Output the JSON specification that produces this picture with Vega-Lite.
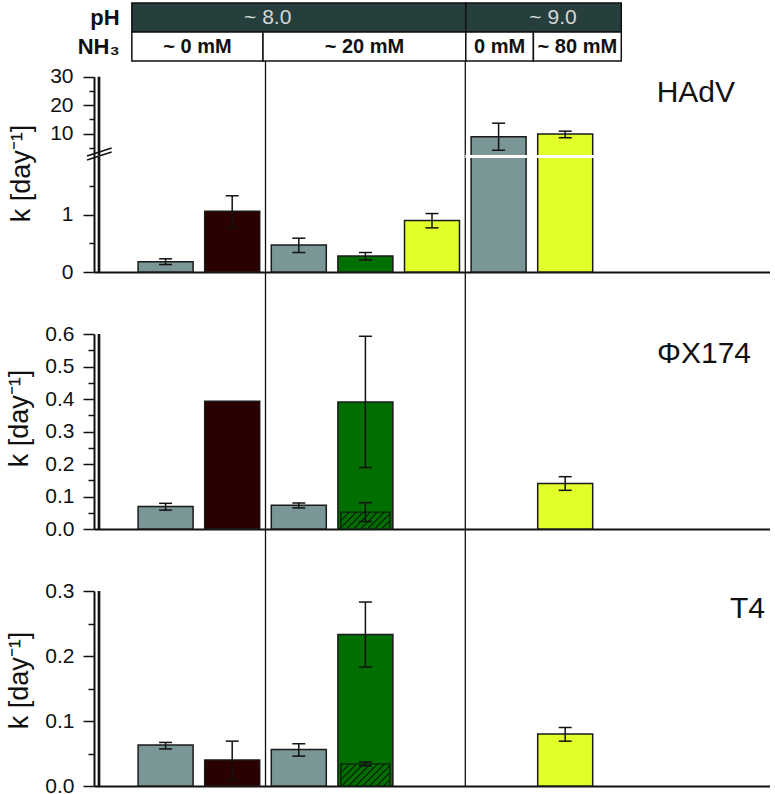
{
  "$schema": "https://vega.github.io/schema/vega-lite/v6.json",
  "padding": {"left": 5, "top": 2, "right": 0, "bottom": 0},
  "spacing": 0,
  "bounds": "flush",
  "resolve": {"scale": {"x": "independent", "y": "independent", "fill": "independent"}},
  "config": {
    "view": {"stroke": null},
    "font": "Liberation Sans",
    "axisY": {"domain": true, "domainColor": "#111", "domainWidth": 2, "grid": false, "labelOverlap": false, "tickCount": 100, "tickColor": "#111", "tickWidth": 1.5, "labelFontSize": 21, "labelColor": "#111", "titleFontSize": 27, "titleFontWeight": "normal", "titleColor": "#111"},
    "axisX": {"domain": true, "domainColor": "#111", "domainWidth": 2, "ticks": false, "labels": false, "grid": false, "title": null}
  },
  "datasets": {
    "header": [
      {"row": "pH", "label": "~ 8.0", "x0": 0.56, "x1": 5.5, "xl": 2.57},
      {"row": "pH", "label": "~ 9.0", "x0": 5.5, "x1": 7.8, "xl": 6.79},
      {"row": "NH3", "label": "~ 0 mM", "x0": 0.56, "x1": 2.5, "xl": 1.53},
      {"row": "NH3", "label": "~ 20 mM", "x0": 2.5, "x1": 5.5, "xl": 4.0},
      {"row": "NH3", "label": "0 mM", "x0": 5.5, "x1": 6.5, "xl": 6.0},
      {"row": "NH3", "label": "~ 80 mM", "x0": 6.5, "x1": 7.8, "xl": 7.15}
    ],
    "rowlabels": [
      {"row": "pH", "text": "pH"},
      {"row": "NH3", "text": "NH₃"}
    ],
    "separators": [{"s": 2.5}, {"s": 5.5}],
    "hadv": [
      {"pos": 1, "cond": "grey", "k": 0.18, "lo": 0.13, "hi": 0.23},
      {"pos": 2, "cond": "brown", "k": 1.06, "lo": 0.77, "hi": 1.33},
      {"pos": 3, "cond": "grey", "k": 0.47, "lo": 0.34, "hi": 0.59},
      {"pos": 4, "cond": "green", "k": 0.28, "lo": 0.21, "hi": 0.34},
      {"pos": 5, "cond": "yellow", "k": 0.90, "lo": 0.77, "hi": 1.02},
      {"pos": 6, "cond": "grey", "k": 8.9, "lo": 4.2, "hi": 13.7},
      {"pos": 7, "cond": "yellow", "k": 9.9, "lo": 8.6, "hi": 10.9}
    ],
    "phix": [
      {"pos": 1, "cond": "grey", "k": 0.069, "lo": 0.058, "hi": 0.079},
      {"pos": 2, "cond": "brown", "k": 0.393, "lo": null, "hi": null},
      {"pos": 3, "cond": "grey", "k": 0.073, "lo": 0.065, "hi": 0.080},
      {"pos": 4, "cond": "green", "k": 0.391, "lo": 0.189, "hi": 0.593},
      {"pos": 7, "cond": "yellow", "k": 0.140, "lo": 0.119, "hi": 0.161}
    ],
    "phix_hatched": [{"pos": 4, "k": 0.052, "lo": 0.023, "hi": 0.081}],
    "t4": [
      {"pos": 1, "cond": "grey", "k": 0.063, "lo": 0.057, "hi": 0.067},
      {"pos": 2, "cond": "brown", "k": 0.040, "lo": 0.009, "hi": 0.069},
      {"pos": 3, "cond": "grey", "k": 0.056, "lo": 0.046, "hi": 0.065},
      {"pos": 4, "cond": "green", "k": 0.233, "lo": 0.183, "hi": 0.283},
      {"pos": 7, "cond": "yellow", "k": 0.080, "lo": 0.069, "hi": 0.090}
    ],
    "t4_hatched": [{"pos": 4, "k": 0.034, "lo": 0.031, "hi": 0.037}]
  },
  "vconcat": [
    {
      "width": 676,
      "height": 58,
      "data": {"name": "header"},
      "encoding": {
        "y": {"field": "row", "type": "nominal", "scale": {"domain": ["pH", "NH3"], "paddingInner": 0, "paddingOuter": 0}, "axis": null}
      },
      "layer": [
        {
          "mark": {"type": "rect", "stroke": "#111", "strokeWidth": 1.5},
          "encoding": {
            "x": {"field": "x0", "type": "quantitative", "scale": {"domain": [0, 10], "nice": false, "zero": false}, "axis": null},
            "x2": {"field": "x1"},
            "fill": {"condition": {"test": "datum.row == 'pH'", "value": "#263f3d"}, "value": "#ffffff"}
          }
        },
        {
          "transform": [{"filter": "datum.row == 'pH'"}],
          "mark": {"type": "text", "fontSize": 21, "color": "#d4d8d8", "baseline": "middle"},
          "encoding": {
            "x": {"field": "xl", "type": "quantitative", "scale": {"domain": [0, 10], "nice": false, "zero": false}, "axis": null},
            "text": {"field": "label"}
          }
        },
        {
          "transform": [{"filter": "datum.row == 'NH3'"}],
          "mark": {"type": "text", "fontSize": 20, "fontWeight": "bold", "color": "#111", "baseline": "middle"},
          "encoding": {
            "x": {"field": "xl", "type": "quantitative", "scale": {"domain": [0, 10], "nice": false, "zero": false}, "axis": null},
            "text": {"field": "label"}
          }
        },
        {
          "data": {"name": "rowlabels"},
          "mark": {"type": "text", "fontSize": 22, "fontWeight": "bold", "color": "#111", "align": "right", "baseline": "middle"},
          "encoding": {
            "x": {"datum": 0.38, "type": "quantitative", "scale": {"domain": [0, 10], "nice": false, "zero": false}},
            "text": {"field": "text"}
          }
        }
      ]
    },
    {
      "width": 676,
      "height": 211,
      "data": {"name": "hadv"},
      "layer": [
        {
          "data": {"name": "separators"},
          "mark": {"type": "rule", "color": "#111", "strokeWidth": 1.3},
          "encoding": {"x": {"field": "s", "type": "quantitative", "scale": {"domain": [0, 10], "nice": false, "zero": false}, "axis": {}}}
        },
        {
          "mark": {"type": "bar", "width": 55, "stroke": "#1a1a1a", "strokeWidth": 1.5},
          "encoding": {
            "x": {"field": "pos", "type": "quantitative", "scale": {"domain": [0, 10], "nice": false, "zero": false}},
            "y": {"field": "k", "type": "quantitative", "scale": {"domain": [0, 2.0, 2.5, 30], "range": [211, 96.4, 94.1, 15.7], "nice": false, "zero": false},
              "axis": {"title": "k [day⁻¹]", "values": [0, 0.5, 1, 1.5, 5, 10, 15, 20, 25, 30], "format": "d",
                "labelExpr": "indexof([0,1,10,20,30], datum.value) >= 0 ? datum.label : ''",
                "tickSize": {"condition": {"test": "indexof([0,1,10,20,30], datum.value) >= 0", "value": 11}, "value": 5},
                "labelPadding": 10, "titlePadding": 14, "titleY": 112}},
            "fill": {"field": "cond", "type": "nominal", "scale": {"domain": ["grey", "brown", "green", "yellow"], "range": ["#7b9696", "#2b0000", "#006f00", "#e2ff2a"]}, "legend": null}
          }
        },
        {
          "data": {"values": [{"xa": -0.02, "xb": 0.02, "ya": 0, "yb": 2.1}, {"xa": -0.02, "xb": 0.02, "ya": 2.4, "yb": 30}]},
          "mark": {"type": "rect", "color": "#111"},
          "encoding": {
            "x": {"field": "xa", "type": "quantitative"},
            "x2": {"field": "xb"},
            "y": {"field": "ya", "type": "quantitative"},
            "y2": {"field": "yb"}
          }
        },
        {
          "data": {"values": [{"a": 5.5, "b": 7.5, "v": 2.2}]},
          "mark": {"type": "rule", "color": "#ffffff", "strokeWidth": 3},
          "encoding": {
            "x": {"field": "a", "type": "quantitative"},
            "x2": {"field": "b"},
            "y": {"field": "v", "type": "quantitative"}
          }
        },
        {
          "mark": {"type": "rule", "color": "#111", "strokeWidth": 1.5},
          "encoding": {
            "x": {"field": "pos", "type": "quantitative"},
            "y": {"field": "lo", "type": "quantitative"},
            "y2": {"field": "hi"}
          }
        },
        {
          "mark": {"type": "tick", "orient": "horizontal", "size": 13, "thickness": 1.5, "color": "#111", "opacity": 1},
          "encoding": {
            "x": {"field": "pos", "type": "quantitative"},
            "y": {"field": "lo", "type": "quantitative"}
          }
        },
        {
          "mark": {"type": "tick", "orient": "horizontal", "size": 13, "thickness": 1.5, "color": "#111", "opacity": 1},
          "encoding": {
            "x": {"field": "pos", "type": "quantitative"},
            "y": {"field": "hi", "type": "quantitative"}
          }
        },
        {
          "data": {"values": [{"xa": -0.18, "xb": 0.19, "ya": 1.955, "yb": 3.58}, {"xa": -0.18, "xb": 0.19, "ya": 2.3, "yb": 4.98}]},
          "mark": {"type": "rule", "color": "#111", "strokeWidth": 1.5},
          "encoding": {
            "x": {"field": "xa", "type": "quantitative"},
            "x2": {"field": "xb"},
            "y": {"field": "ya", "type": "quantitative"},
            "y2": {"field": "yb"}
          }
        },
        {
          "data": {"values": [{"name": "HAdV"}]},
          "mark": {"type": "text", "fontSize": 30, "align": "right", "baseline": "middle", "color": "#111"},
          "encoding": {
            "x": {"datum": 9.55, "type": "quantitative"},
            "y": {"datum": 24.3, "type": "quantitative"},
            "text": {"field": "name"}
          }
        }
      ]
    },
    {
      "width": 676,
      "height": 257,
      "data": {"name": "phix"},
      "layer": [
        {
          "data": {"name": "separators"},
          "mark": {"type": "rule", "color": "#111", "strokeWidth": 1.3},
          "encoding": {"x": {"field": "s", "type": "quantitative", "scale": {"domain": [0, 10], "nice": false, "zero": false}, "axis": {}}}
        },
        {
          "mark": {"type": "bar", "width": 55, "stroke": "#1a1a1a", "strokeWidth": 1.5},
          "encoding": {
            "x": {"field": "pos", "type": "quantitative", "scale": {"domain": [0, 10], "nice": false, "zero": false}},
            "y": {"field": "k", "type": "quantitative", "scale": {"domain": [0, 0.6], "range": [257, 62], "nice": false},
              "axis": {"title": "k [day⁻¹]", "values": [0, 0.05, 0.1, 0.15, 0.2, 0.25, 0.3, 0.35, 0.4, 0.45, 0.5, 0.55, 0.6],
                "labelExpr": "abs(datum.value*10 - round(datum.value*10)) < 0.001 ? format(datum.value, '.1f') : ''",
                "tickSize": {"condition": {"test": "abs(datum.value*10 - round(datum.value*10)) < 0.001", "value": 11}, "value": 6},
                "labelPadding": 9, "titlePadding": 11, "titleY": 146}},
            "fill": {"field": "cond", "type": "nominal", "scale": {"domain": ["grey", "brown", "green", "yellow"], "range": ["#7b9696", "#2b0000", "#006f00", "#e2ff2a"]}, "legend": null}
          }
        },
        {
          "data": {"values": [{"xa": -0.02, "xb": 0.02, "ya": 0, "yb": 0.6}]},
          "mark": {"type": "rect", "color": "#111"},
          "encoding": {
            "x": {"field": "xa", "type": "quantitative"},
            "x2": {"field": "xb"},
            "y": {"field": "ya", "type": "quantitative"},
            "y2": {"field": "yb"}
          }
        },
        {
          "data": {"name": "phix_hatched"},
          "mark": {"type": "bar", "width": 49, "stroke": "#0d200d", "strokeWidth": 1.3,
            "fill": {"gradient": "linear", "x1": 0, "y1": 0, "x2": 1.202, "y2": 0.415, "stops": [
              {"offset": 0, "color": "#006f00"},
              {"offset": 0.0152, "color": "#006f00"}, {"offset": 0.0152, "color": "#0b2a0b"}, {"offset": 0.0455, "color": "#0b2a0b"}, {"offset": 0.0455, "color": "#006f00"},
              {"offset": 0.1212, "color": "#006f00"}, {"offset": 0.1212, "color": "#0b2a0b"}, {"offset": 0.1515, "color": "#0b2a0b"}, {"offset": 0.1515, "color": "#006f00"},
              {"offset": 0.2273, "color": "#006f00"}, {"offset": 0.2273, "color": "#0b2a0b"}, {"offset": 0.2576, "color": "#0b2a0b"}, {"offset": 0.2576, "color": "#006f00"},
              {"offset": 0.3333, "color": "#006f00"}, {"offset": 0.3333, "color": "#0b2a0b"}, {"offset": 0.3636, "color": "#0b2a0b"}, {"offset": 0.3636, "color": "#006f00"},
              {"offset": 0.4394, "color": "#006f00"}, {"offset": 0.4394, "color": "#0b2a0b"}, {"offset": 0.4697, "color": "#0b2a0b"}, {"offset": 0.4697, "color": "#006f00"},
              {"offset": 0.5455, "color": "#006f00"}, {"offset": 0.5455, "color": "#0b2a0b"}, {"offset": 0.5758, "color": "#0b2a0b"}, {"offset": 0.5758, "color": "#006f00"},
              {"offset": 0.6515, "color": "#006f00"}, {"offset": 0.6515, "color": "#0b2a0b"}, {"offset": 0.6818, "color": "#0b2a0b"}, {"offset": 0.6818, "color": "#006f00"},
              {"offset": 0.7576, "color": "#006f00"}, {"offset": 0.7576, "color": "#0b2a0b"}, {"offset": 0.7879, "color": "#0b2a0b"}, {"offset": 0.7879, "color": "#006f00"},
              {"offset": 0.8636, "color": "#006f00"}, {"offset": 0.8636, "color": "#0b2a0b"}, {"offset": 0.8939, "color": "#0b2a0b"}, {"offset": 0.8939, "color": "#006f00"},
              {"offset": 0.9697, "color": "#006f00"}, {"offset": 0.9697, "color": "#0b2a0b"}, {"offset": 1, "color": "#0b2a0b"}
            ]}},
          "encoding": {
            "x": {"field": "pos", "type": "quantitative"},
            "y": {"field": "k", "type": "quantitative"}
          }
        },
        {
          "transform": [{"filter": "isValid(datum.lo)"}],
          "mark": {"type": "rule", "color": "#111", "strokeWidth": 1.5},
          "encoding": {
            "x": {"field": "pos", "type": "quantitative"},
            "y": {"field": "lo", "type": "quantitative"},
            "y2": {"field": "hi"}
          }
        },
        {
          "transform": [{"filter": "isValid(datum.lo)"}],
          "mark": {"type": "tick", "orient": "horizontal", "size": 13, "thickness": 1.5, "color": "#111", "opacity": 1},
          "encoding": {
            "x": {"field": "pos", "type": "quantitative"},
            "y": {"field": "lo", "type": "quantitative"}
          }
        },
        {
          "transform": [{"filter": "isValid(datum.hi)"}],
          "mark": {"type": "tick", "orient": "horizontal", "size": 13, "thickness": 1.5, "color": "#111", "opacity": 1},
          "encoding": {
            "x": {"field": "pos", "type": "quantitative"},
            "y": {"field": "hi", "type": "quantitative"}
          }
        },
        {
          "data": {"name": "phix_hatched"},
          "mark": {"type": "rule", "color": "#111", "strokeWidth": 1.5},
          "encoding": {
            "x": {"field": "pos", "type": "quantitative"},
            "y": {"field": "lo", "type": "quantitative"},
            "y2": {"field": "hi"}
          }
        },
        {
          "data": {"name": "phix_hatched"},
          "mark": {"type": "tick", "orient": "horizontal", "size": 13, "thickness": 1.5, "color": "#111", "opacity": 1},
          "encoding": {
            "x": {"field": "pos", "type": "quantitative"},
            "y": {"field": "lo", "type": "quantitative"}
          }
        },
        {
          "data": {"name": "phix_hatched"},
          "mark": {"type": "tick", "orient": "horizontal", "size": 13, "thickness": 1.5, "color": "#111", "opacity": 1},
          "encoding": {
            "x": {"field": "pos", "type": "quantitative"},
            "y": {"field": "hi", "type": "quantitative"}
          }
        },
        {
          "data": {"values": [{"name": "ΦX174"}]},
          "mark": {"type": "text", "fontSize": 30, "align": "right", "baseline": "middle", "color": "#111"},
          "encoding": {
            "x": {"datum": 9.79, "type": "quantitative"},
            "y": {"datum": 0.539, "type": "quantitative"},
            "text": {"field": "name"}
          }
        }
      ]
    },
    {
      "width": 676,
      "height": 257,
      "data": {"name": "t4"},
      "layer": [
        {
          "data": {"name": "separators"},
          "mark": {"type": "rule", "color": "#111", "strokeWidth": 1.3},
          "encoding": {"x": {"field": "s", "type": "quantitative", "scale": {"domain": [0, 10], "nice": false, "zero": false}, "axis": {}}}
        },
        {
          "mark": {"type": "bar", "width": 55, "stroke": "#1a1a1a", "strokeWidth": 1.5},
          "encoding": {
            "x": {"field": "pos", "type": "quantitative", "scale": {"domain": [0, 10], "nice": false, "zero": false}},
            "y": {"field": "k", "type": "quantitative", "scale": {"domain": [0, 0.3], "range": [257, 62], "nice": false},
              "axis": {"title": "k [day⁻¹]", "values": [0, 0.05, 0.1, 0.15, 0.2, 0.25, 0.3],
                "labelExpr": "abs(datum.value*10 - round(datum.value*10)) < 0.001 ? format(datum.value, '.1f') : ''",
                "tickSize": {"condition": {"test": "abs(datum.value*10 - round(datum.value*10)) < 0.001", "value": 11}, "value": 6},
                "labelPadding": 9, "titlePadding": 11, "titleY": 151}},
            "fill": {"field": "cond", "type": "nominal", "scale": {"domain": ["grey", "brown", "green", "yellow"], "range": ["#7b9696", "#2b0000", "#006f00", "#e2ff2a"]}, "legend": null}
          }
        },
        {
          "data": {"values": [{"xa": -0.02, "xb": 0.02, "ya": 0, "yb": 0.3}]},
          "mark": {"type": "rect", "color": "#111"},
          "encoding": {
            "x": {"field": "xa", "type": "quantitative"},
            "x2": {"field": "xb"},
            "y": {"field": "ya", "type": "quantitative"},
            "y2": {"field": "yb"}
          }
        },
        {
          "data": {"name": "t4_hatched"},
          "mark": {"type": "bar", "width": 49, "stroke": "#0d200d", "strokeWidth": 1.3,
            "fill": {"gradient": "linear", "x1": 0, "y1": 0, "x2": 1.206, "y2": 0.544, "stops": [
              {"offset": 0, "color": "#006f00"},
              {"offset": 0.0141, "color": "#006f00"}, {"offset": 0.0141, "color": "#0b2a0b"}, {"offset": 0.0423, "color": "#0b2a0b"}, {"offset": 0.0423, "color": "#006f00"},
              {"offset": 0.1127, "color": "#006f00"}, {"offset": 0.1127, "color": "#0b2a0b"}, {"offset": 0.1408, "color": "#0b2a0b"}, {"offset": 0.1408, "color": "#006f00"},
              {"offset": 0.2113, "color": "#006f00"}, {"offset": 0.2113, "color": "#0b2a0b"}, {"offset": 0.2394, "color": "#0b2a0b"}, {"offset": 0.2394, "color": "#006f00"},
              {"offset": 0.3099, "color": "#006f00"}, {"offset": 0.3099, "color": "#0b2a0b"}, {"offset": 0.3380, "color": "#0b2a0b"}, {"offset": 0.3380, "color": "#006f00"},
              {"offset": 0.4085, "color": "#006f00"}, {"offset": 0.4085, "color": "#0b2a0b"}, {"offset": 0.4366, "color": "#0b2a0b"}, {"offset": 0.4366, "color": "#006f00"},
              {"offset": 0.5070, "color": "#006f00"}, {"offset": 0.5070, "color": "#0b2a0b"}, {"offset": 0.5352, "color": "#0b2a0b"}, {"offset": 0.5352, "color": "#006f00"},
              {"offset": 0.6056, "color": "#006f00"}, {"offset": 0.6056, "color": "#0b2a0b"}, {"offset": 0.6338, "color": "#0b2a0b"}, {"offset": 0.6338, "color": "#006f00"},
              {"offset": 0.7042, "color": "#006f00"}, {"offset": 0.7042, "color": "#0b2a0b"}, {"offset": 0.7324, "color": "#0b2a0b"}, {"offset": 0.7324, "color": "#006f00"},
              {"offset": 0.8028, "color": "#006f00"}, {"offset": 0.8028, "color": "#0b2a0b"}, {"offset": 0.8310, "color": "#0b2a0b"}, {"offset": 0.8310, "color": "#006f00"},
              {"offset": 0.9014, "color": "#006f00"}, {"offset": 0.9014, "color": "#0b2a0b"}, {"offset": 0.9296, "color": "#0b2a0b"}, {"offset": 0.9296, "color": "#006f00"},
              {"offset": 1, "color": "#006f00"}
            ]}},
          "encoding": {
            "x": {"field": "pos", "type": "quantitative"},
            "y": {"field": "k", "type": "quantitative"}
          }
        },
        {
          "mark": {"type": "rule", "color": "#111", "strokeWidth": 1.5},
          "encoding": {
            "x": {"field": "pos", "type": "quantitative"},
            "y": {"field": "lo", "type": "quantitative"},
            "y2": {"field": "hi"}
          }
        },
        {
          "mark": {"type": "tick", "orient": "horizontal", "size": 13, "thickness": 1.5, "color": "#111", "opacity": 1},
          "encoding": {
            "x": {"field": "pos", "type": "quantitative"},
            "y": {"field": "lo", "type": "quantitative"}
          }
        },
        {
          "mark": {"type": "tick", "orient": "horizontal", "size": 13, "thickness": 1.5, "color": "#111", "opacity": 1},
          "encoding": {
            "x": {"field": "pos", "type": "quantitative"},
            "y": {"field": "hi", "type": "quantitative"}
          }
        },
        {
          "data": {"name": "t4_hatched"},
          "mark": {"type": "rule", "color": "#111", "strokeWidth": 1.5},
          "encoding": {
            "x": {"field": "pos", "type": "quantitative"},
            "y": {"field": "lo", "type": "quantitative"},
            "y2": {"field": "hi"}
          }
        },
        {
          "data": {"name": "t4_hatched"},
          "mark": {"type": "tick", "orient": "horizontal", "size": 13, "thickness": 1.5, "color": "#111", "opacity": 1},
          "encoding": {
            "x": {"field": "pos", "type": "quantitative"},
            "y": {"field": "lo", "type": "quantitative"}
          }
        },
        {
          "data": {"name": "t4_hatched"},
          "mark": {"type": "tick", "orient": "horizontal", "size": 13, "thickness": 1.5, "color": "#111", "opacity": 1},
          "encoding": {
            "x": {"field": "pos", "type": "quantitative"},
            "y": {"field": "hi", "type": "quantitative"}
          }
        },
        {
          "data": {"values": [{"name": "T4"}]},
          "mark": {"type": "text", "fontSize": 30, "align": "right", "baseline": "middle", "color": "#111"},
          "encoding": {
            "x": {"datum": 10.0, "type": "quantitative"},
            "y": {"datum": 0.272, "type": "quantitative"},
            "text": {"field": "name"}
          }
        }
      ]
    }
  ]
}
